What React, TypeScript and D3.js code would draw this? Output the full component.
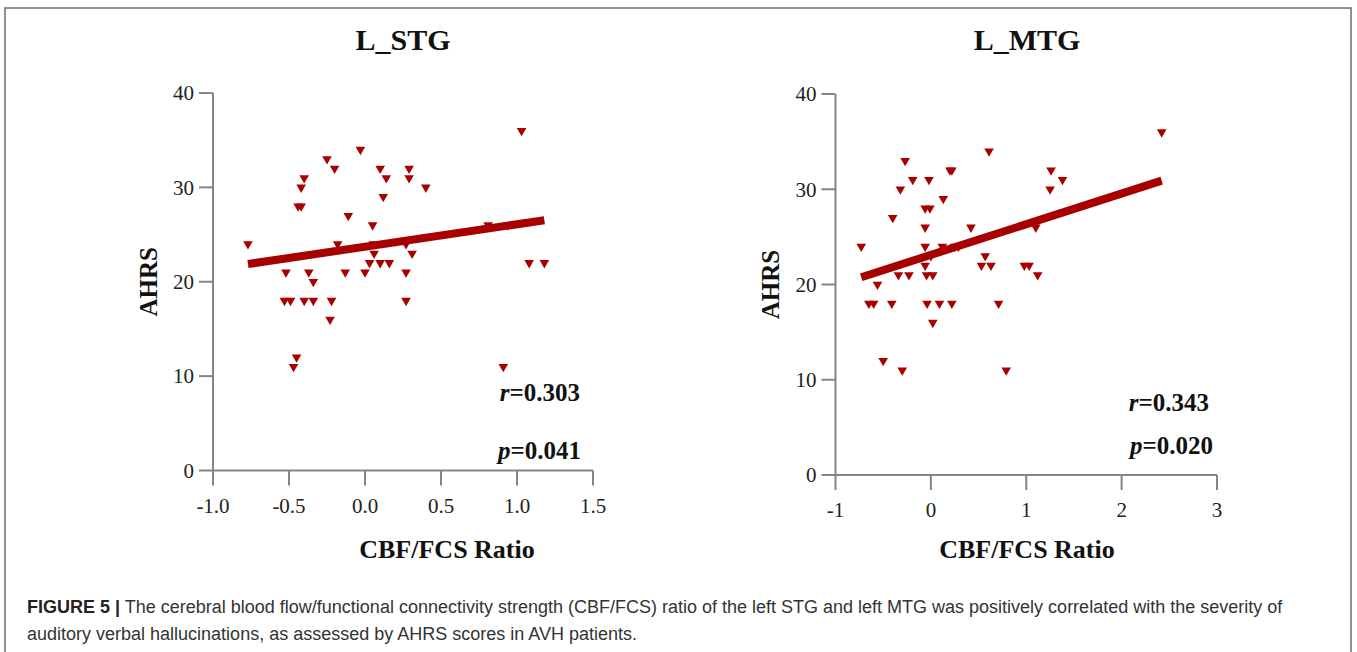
import React from "react";
import * as d3 from "d3";

// ---------- data ----------
const stgX = [-0.77, -0.52, -0.53, -0.49, -0.37, -0.34, -0.40, -0.34, -0.22, -0.23, -0.45, -0.47, -0.44, -0.42, -0.42, -0.40, -0.25, -0.20, -0.03, -0.11, -0.18, -0.13, 0.0, 0.03, 0.05, 0.055, 0.06, 0.10, 0.16, 0.10, 0.14, 0.12, 0.29, 0.29, 0.27, 0.31, 0.27, 0.27, 0.40, 1.03, 0.81, 0.94, 1.08, 1.18, 0.91];
const stgY = [24, 21, 18, 18, 21, 20, 18, 18, 18, 16, 12, 11, 28, 28, 30, 31, 33, 32, 34, 27, 24, 21, 21, 22, 26, 24, 23, 22, 22, 32, 31, 29, 32, 31, 24, 23, 21, 18, 30, 36, 26, 26, 22, 22, 11];
const mtgX = [-0.73, -0.56, -0.65, -0.60, -0.41, -0.50, -0.30, -0.34, -0.23, -0.40, -0.27, -0.19, -0.32, -0.02, -0.06, -0.01, -0.06, -0.06, -0.06, -0.045, 0.02, -0.04, 0.09, 0.22, 0.02, 0.13, 0.20, 0.22, 0.12, 0.25, 0.29, 0.0, 0.61, 0.42, 0.57, 0.53, 0.63, 0.71, 0.79, 0.98, 1.03, 1.12, 1.10, 2.42, 1.26, 1.38, 1.25];
const mtgY = [24, 20, 18, 18, 18, 12, 11, 21, 21, 27, 33, 31, 30, 31, 28, 28, 26, 24, 22, 21, 21, 18, 18, 18, 16, 29, 32, 32, 24, 24, 24, 23, 34, 26, 23, 22, 22, 18, 11, 22, 22, 21, 26, 36, 32, 31, 30];

const stgFit = [23.71, 2.38]; // intercept, slope
const mtgFit = [23.11, 3.22];

const stgXTicks = [-1.0, -0.5, 0.0, 0.5, 1.0, 1.5];
const mtgXTicks = [-1, 0, 1, 2, 3];
const yTicks = [0, 10, 20, 30, 40];

const RED = "#a80000";
const AXIS = "#858585";
const SERIF = "'Liberation Serif', 'Times New Roman', serif";

type PanelProps = {
  title: string;
  xs: number[];
  ys: number[];
  fit: number[];
  xDomain: [number, number];
  xRange: [number, number];
  yRange: [number, number];
  xTicks: number[];
  xFmt: (v: number) => string;
  rText: string;
  pText: string;
  rPos: [number, number];
  pPos: [number, number];
  titleX: number;
  yLabelX: number;
  xLabelX: number;
};

function Panel(p: PanelProps) {
  const x = d3.scaleLinear().domain(p.xDomain).range(p.xRange);
  const y = d3.scaleLinear().domain([0, 40]).range(p.yRange);
  const x0 = p.xRange[0];
  const y0 = p.yRange[0];
  const tri = d3.symbol().type(d3.symbolTriangle).size(40);
  const ext = d3.extent(p.xs) as [number, number];
  const line = d3.line<number>().x((d) => x(d)).y((d) => y(p.fit[0] + p.fit[1] * d));
  const midY = (p.yRange[0] + p.yRange[1]) / 2;
  return (
    <g fontFamily={SERIF}>
      <text x={p.titleX} y={50} textAnchor="middle" fontSize={30} fontWeight="bold" fill="#111">{p.title}</text>
      {/* y axis */}
      <line x1={x0} x2={x0} y1={p.yRange[1]} y2={y0} stroke={AXIS} strokeWidth={2} />
      {yTicks.map((t) => (
        <g key={"y" + t}>
          <line x1={x0 - 14} x2={x0} y1={y(t)} y2={y(t)} stroke={AXIS} strokeWidth={2} />
          <text x={x0 - 19} y={y(t)} dy="0.35em" textAnchor="end" fontSize={21} fill="#222">{t}</text>
        </g>
      ))}
      {/* x axis */}
      <line x1={x0} x2={p.xRange[1]} y1={y0} y2={y0} stroke={AXIS} strokeWidth={2} />
      {p.xTicks.map((t) => (
        <g key={"x" + t}>
          <line x1={x(t)} x2={x(t)} y1={y0} y2={y0 + 15} stroke={AXIS} strokeWidth={2} />
          <text x={x(t)} y={y0 + 42} textAnchor="middle" fontSize={21} fill="#222">{p.xFmt(t)}</text>
        </g>
      ))}
      <text x={p.xLabelX} y={558} textAnchor="middle" fontSize={26} fontWeight="bold" fill="#111">CBF/FCS Ratio</text>
      <text transform={`translate(${p.yLabelX},${midY}) rotate(-90)`} textAnchor="middle" fontSize={25} fontWeight="bold" fill="#111">AHRS</text>
      {/* points */}
      {p.xs.map((v, i) => (
        <path key={i} d={tri() as string} transform={`translate(${x(v)},${y(p.ys[i])}) rotate(180)`} fill={RED} />
      ))}
      <path d={line(ext) as string} stroke={RED} strokeWidth={8} fill="none" />
      <text x={p.rPos[0]} y={p.rPos[1]} textAnchor="end" fontSize={25} fontWeight="bold" fill="#111">
        <tspan fontStyle="italic">r</tspan>{p.rText}
      </text>
      <text x={p.pPos[0]} y={p.pPos[1]} textAnchor="end" fontSize={25} fontWeight="bold" fill="#111">
        <tspan fontStyle="italic">p</tspan>{p.pText}
      </text>
    </g>
  );
}

export default function App() {
  return (
    <svg width={1357} height={652} style={{ position: "absolute", left: 0, top: 0, background: "#fff" }}>
      <rect x={0} y={0} width={1357} height={652} fill="#fff" />
      <path d="M5,662 L5,8 L1351,8 L1351,662" fill="none" stroke="#6d6d6d" strokeWidth={1.5} />
      <Panel
        title="L_STG"
        xs={stgX}
        ys={stgY}
        fit={stgFit}
        xDomain={[-1, 1.5]}
        xRange={[213, 593]}
        yRange={[470.5, 93]}
        xTicks={stgXTicks}
        xFmt={(v) => v.toFixed(1)}
        rText="=0.303"
        pText="=0.041"
        rPos={[580, 401]}
        pPos={[581, 459]}
        titleX={403}
        yLabelX={157}
        xLabelX={447}
      />
      <Panel
        title="L_MTG"
        xs={mtgX}
        ys={mtgY}
        fit={mtgFit}
        xDomain={[-1, 3]}
        xRange={[835.5, 1217]}
        yRange={[475, 94]}
        xTicks={mtgXTicks}
        xFmt={(v) => String(v)}
        rText="=0.343"
        pText="=0.020"
        rPos={[1209, 411]}
        pPos={[1213, 454]}
        titleX={1027}
        yLabelX={779}
        xLabelX={1027}
      />
      <g fontFamily="'Liberation Sans', Arial, sans-serif" fontSize={18} fill="#333">
        <text x={27} y={613}>
          <tspan fontWeight="bold" fill="#222">FIGURE 5 |</tspan>
          <tspan> The cerebral blood flow/functional connectivity strength (CBF/FCS) ratio of the left STG and left MTG was positively correlated with the severity of</tspan>
        </text>
        <text x={27} y={640}>auditory verbal hallucinations, as assessed by AHRS scores in AVH patients.</text>
      </g>
    </svg>
  );
}
